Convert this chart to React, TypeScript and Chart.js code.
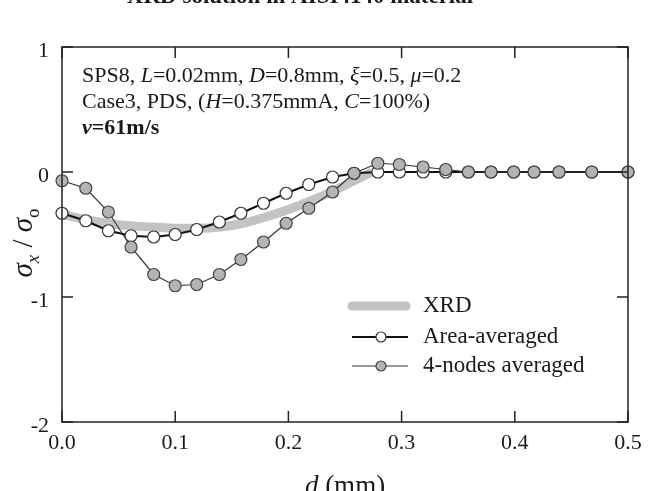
import React, { useEffect, useRef } from 'react';
import { Chart, registerables } from 'chart.js';
Chart.register(...registerables);

const FONT = "'Liberation Serif', 'Times New Roman', serif";

// node positions (mm)
const xNodes = [0, 0.021, 0.041, 0.061, 0.081, 0.100, 0.119, 0.139, 0.158, 0.178, 0.198, 0.218, 0.239, 0.258, 0.279, 0.298, 0.319, 0.339, 0.359, 0.379, 0.399, 0.417, 0.439, 0.468, 0.5];
const areaAveraged = [-0.33, -0.39, -0.47, -0.51, -0.52, -0.50, -0.46, -0.40, -0.33, -0.25, -0.17, -0.10, -0.04, -0.01, 0.0, 0.0, 0.0, 0.0, 0.0, 0.0, 0.0, 0.0, 0.0, 0.0, 0.0];
const nodes4Averaged = [-0.07, -0.13, -0.32, -0.60, -0.82, -0.91, -0.90, -0.82, -0.70, -0.56, -0.41, -0.29, -0.16, -0.01, 0.07, 0.06, 0.04, 0.02, 0.0, 0.0, 0.0, 0.0, 0.0, 0.0, 0.0];

const xrdX = [0, 0.02, 0.04, 0.06, 0.08, 0.10, 0.12, 0.14, 0.16, 0.18, 0.20, 0.22, 0.24, 0.26, 0.274];
const xrdY = [-0.34, -0.38, -0.41, -0.43, -0.44, -0.45, -0.45, -0.44, -0.41, -0.36, -0.30, -0.23, -0.15, -0.06, 0.0];

const xTickStep = 0.1;
const yTickStep = 1;
const legendLabels = ['XRD', 'Area-averaged', '4-nodes averaged'];

type Seg = { t: string; i?: boolean; b?: boolean; sub?: boolean };
const annotationLines: Seg[][] = [
  [{ t: 'SPS8, ' }, { t: 'L', i: true }, { t: '=0.02mm, ' }, { t: 'D', i: true }, { t: '=0.8mm, ' }, { t: 'ξ', i: true }, { t: '=0.5, ' }, { t: 'μ', i: true }, { t: '=0.2' }],
  [{ t: 'Case3, PDS, (' }, { t: 'H', i: true }, { t: '=0.375mmA, ' }, { t: 'C', i: true }, { t: '=100%)' }],
  [{ t: 'v', i: true, b: true }, { t: '=61m/s', b: true }],
];
const yLabel: Seg[] = [{ t: 'σ', i: true }, { t: 'x', i: true, sub: true }, { t: ' / ' }, { t: 'σ', i: true }, { t: 'o', sub: true }];
const xLabel: Seg[] = [{ t: 'd', i: true }, { t: ' (mm)' }];
const titleText = 'XRD solution in AISI4140 material';

function fontOf(s: Seg, size: number) {
  const sz = s.sub ? Math.round(size * 0.65) : size;
  return `${s.i ? 'italic ' : ''}${s.b ? 'bold ' : ''}${sz}px ${FONT}`;
}
function richWidth(ctx: CanvasRenderingContext2D, segs: Seg[], size: number) {
  let w = 0;
  for (const s of segs) { ctx.font = fontOf(s, size); w += ctx.measureText(s.t).width; }
  return w;
}
function drawRich(ctx: CanvasRenderingContext2D, x: number, y: number, segs: Seg[], size: number) {
  let cx = x;
  ctx.textBaseline = 'alphabetic';
  ctx.textAlign = 'left';
  for (const s of segs) {
    ctx.font = fontOf(s, size);
    ctx.fillText(s.t, cx, y + (s.sub ? size * 0.25 : 0));
    cx += ctx.measureText(s.t).width;
  }
}

const decorPlugin = {
  id: 'decor',
  afterDatasetsDraw(chart: any) {
    const ctx: CanvasRenderingContext2D = chart.ctx;
    const { left, right, top, bottom } = chart.chartArea;
    const xs = chart.scales.x;
    const ys = chart.scales.y;
    ctx.save();
    ctx.strokeStyle = '#222';
    ctx.lineWidth = 1.5;
    ctx.strokeRect(left, top, right - left, bottom - top);
    const tl = 11;
    ctx.beginPath();
    xs.ticks.forEach((t: any) => {
      const px = xs.getPixelForValue(t.value);
      ctx.moveTo(px, bottom); ctx.lineTo(px, bottom - tl);
      ctx.moveTo(px, top); ctx.lineTo(px, top + tl);
    });
    ys.ticks.forEach((t: any) => {
      const py = ys.getPixelForValue(t.value);
      ctx.moveTo(left, py); ctx.lineTo(left + tl, py);
      ctx.moveTo(right, py); ctx.lineTo(right - tl, py);
    });
    ctx.stroke();

    ctx.fillStyle = '#1a1a1a';
    // annotation
    annotationLines.forEach((line, i) => drawRich(ctx, 82, 82 + i * 26, line, 22));

    // legend
    const ds = chart.data.datasets;
    const lx0 = 348, lx1 = 410, tx = 423;
    const rows = [306, 337, 366];
    ctx.lineCap = 'round';
    ctx.strokeStyle = ds[0].borderColor;
    ctx.lineWidth = ds[0].borderWidth;
    ctx.beginPath(); ctx.moveTo(lx0 + 4, rows[0]); ctx.lineTo(lx1 - 4, rows[0]); ctx.stroke();
    ctx.lineCap = 'butt';
    for (let k = 1; k <= 2; k++) {
      const d = ds[k];
      ctx.strokeStyle = d.borderColor;
      ctx.lineWidth = d.borderWidth;
      ctx.beginPath(); ctx.moveTo(lx0 + 4, rows[k]); ctx.lineTo(lx1 - 2, rows[k]); ctx.stroke();
      ctx.beginPath();
      ctx.arc((lx0 + lx1) / 2 + 2, rows[k], 5, 0, Math.PI * 2);
      ctx.fillStyle = d.pointBackgroundColor;
      ctx.fill();
      ctx.strokeStyle = d.pointBorderColor;
      ctx.lineWidth = d.pointBorderWidth;
      ctx.stroke();
    }
    ctx.fillStyle = '#1a1a1a';
    ctx.font = `23px ${FONT}`;
    ctx.textBaseline = 'middle';
    legendLabels.forEach((lab, k) => ctx.fillText(lab, tx, rows[k]));

    // title (cut off at top)
    ctx.font = `bold 23px ${FONT}`;
    ctx.textAlign = 'center';
    ctx.textBaseline = 'alphabetic';
    ctx.fillText(titleText, 300, 3);

    // y label
    ctx.save();
    ctx.translate(23, 243);
    ctx.rotate(-Math.PI / 2);
    const wy = richWidth(ctx, yLabel, 29);
    drawRich(ctx, -wy / 2, 9, yLabel, 29);
    ctx.restore();

    // x label
    const wx = richWidth(ctx, xLabel, 27);
    drawRich(ctx, (left + right) / 2 - wx / 2, 494, xLabel, 27);
    ctx.restore();
  },
};

export default function App() {
  const ref = useRef<HTMLCanvasElement>(null);
  useEffect(() => {
    if (!ref.current) return;
    const chart = new Chart(ref.current, {
      type: 'line',
      data: {
        datasets: [
          {
            label: legendLabels[0],
            data: xrdX.map((x, i) => ({ x, y: xrdY[i] })),
            borderColor: '#c3c3c3',
            backgroundColor: '#c3c3c3',
            borderWidth: 9,
            pointRadius: 0,
            cubicInterpolationMode: 'monotone',
            borderCapStyle: 'butt',
            order: 3,
            clip: 0,
          },
          {
            label: legendLabels[1],
            data: xNodes.map((x, i) => ({ x, y: areaAveraged[i] })),
            borderColor: '#111',
            borderWidth: 2,
            pointRadius: 6,
            pointBackgroundColor: '#ffffff',
            pointBorderColor: '#333',
            pointBorderWidth: 1.2,
            order: 2,
            clip: false,
          },
          {
            label: legendLabels[2],
            data: xNodes.map((x, i) => ({ x, y: nodes4Averaged[i] })),
            borderColor: '#333',
            borderWidth: 1.2,
            pointRadius: 6,
            pointBackgroundColor: '#b4b4b4',
            pointBorderColor: '#444',
            pointBorderWidth: 1.2,
            order: 1,
            clip: false,
          },
        ] as any,
      },
      options: {
        animation: false,
        responsive: false,
        events: [],
        layout: { padding: { left: 0, right: 20, top: 47, bottom: 0 } },
        plugins: { legend: { display: false }, tooltip: { enabled: false }, title: { display: false } },
        scales: {
          x: {
            type: 'linear',
            min: 0,
            max: 0.5,
            grid: { display: false, drawTicks: false },
            border: { display: false },
            ticks: {
              stepSize: xTickStep,
              padding: 8,
              color: '#1a1a1a',
              font: { family: FONT, size: 22 },
              maxRotation: 0,
              callback: (v: any) => Number(v).toFixed(1),
            },
            afterFit: (s: any) => { s.height = 69; s.paddingLeft = 0; s.paddingRight = 0; },
          },
          y: {
            type: 'linear',
            min: -2,
            max: 1,
            grid: { display: false, drawTicks: false },
            border: { display: false },
            ticks: {
              stepSize: yTickStep,
              padding: 13,
              labelOffset: 4,
              color: '#1a1a1a',
              font: { family: FONT, size: 22 },
              callback: (v: any) => String(v),
            },
            afterFit: (s: any) => { s.width = 62; s.paddingTop = 0; s.paddingBottom = 0; },
          },
        },
      } as any,
      plugins: [decorPlugin],
    });
    return () => chart.destroy();
  }, []);
  return (
    <div style={{ position: 'fixed', left: 0, top: 0, width: 648, height: 491, background: '#fff' }}>
      <canvas ref={ref} width={648} height={491} style={{ width: 648, height: 491 }} />
    </div>
  );
}
